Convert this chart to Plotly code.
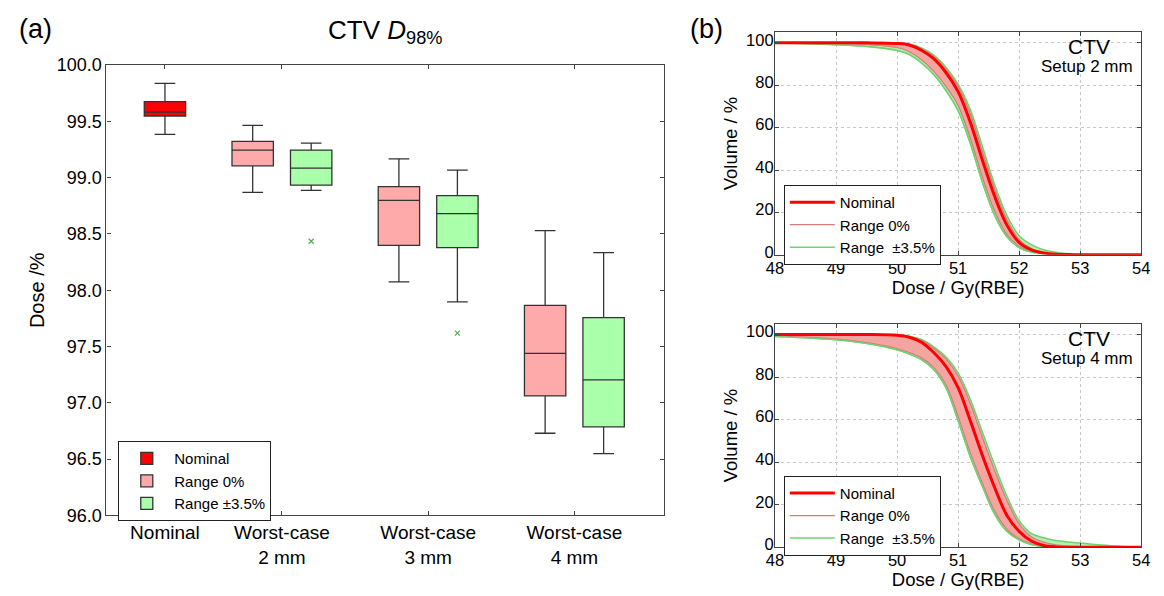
import plotly.graph_objects as go

FONT = "Liberation Sans, Arial, sans-serif"
W, H = 1164, 596

# ---------------- panel (a): CTV D98% box plots ----------------
groups = ["Nominal", "Worst-case<br>2 mm", "Worst-case<br>3 mm", "Worst-case<br>4 mm"]
group_pos = [0.4, 1.2, 2.2, 3.2]

nom_lower = [99.385]
nom_q1 = [99.548]
nom_median = [99.582]
nom_q3 = [99.676]
nom_upper = [99.837]

r0_lower = [98.87, 98.075, 96.73]
r0_q1 = [99.105, 98.398, 97.062]
r0_median = [99.245, 98.798, 97.439]
r0_q3 = [99.322, 98.921, 97.865]
r0_upper = [99.465, 99.167, 98.530]

r35_lower = [98.887, 97.897, 96.55]
r35_q1 = [98.933, 98.378, 96.787]
r35_median = [99.084, 98.681, 97.204]
r35_q3 = [99.245, 98.841, 97.757]
r35_upper = [99.307, 99.067, 98.335]

r35_outlier_group = [1, 2]
r35_outliers = [98.435, 97.62]

# ---------------- panel (b): DVH curves ----------------
dose = [48, 48.5, 49, 49.5, 50.0, 50.2, 50.4, 50.6, 50.8, 51.0, 51.2, 51.4,
        51.6, 51.8, 52.0, 52.2, 52.4, 52.6, 52.8, 53.0, 53.5, 54]

s2_nominal = [100, 100, 100, 100, 99.7, 99.0, 96.5, 92.5, 86, 77, 62.5, 44.5,
              27.5, 14, 5.8, 2.3, 0.9, 0.3, 0.1, 0, 0, 0]
s2_r0_hi = [100, 100, 100, 100, 99.8, 99.2, 97.2, 93.6, 87.5, 79.5, 66.5, 48.5,
            31, 16.5, 7.2, 3.0, 1.2, 0.5, 0.2, 0.05, 0, 0]
s2_r0_lo = [100, 99.9, 99.7, 99.2, 97.8, 95.8, 92, 86.5, 79.5, 70.5, 55, 36.5,
            20.5, 9.5, 4.0, 1.6, 0.6, 0.2, 0.05, 0, 0, 0]
s2_r35_hi = [100, 100, 100, 100, 99.9, 99.4, 97.6, 94.2, 88.5, 80.5, 68.5, 51,
             33, 18.5, 9.0, 4.8, 2.4, 1.2, 0.5, 0.15, 0, 0]
s2_r35_lo = [99.9, 99.6, 99.1, 98.3, 96.4, 94.5, 90.5, 85, 77.5, 68, 52.5, 34,
             18.5, 8.5, 3.4, 1.3, 0.5, 0.2, 0, 0, 0, 0]

s4_nominal = [100, 100, 100, 100, 99.6, 98.7, 96.3, 91.5, 85, 75, 59.5, 43,
              28, 15, 7.5, 3.0, 0.9, 0.2, 0.05, 0, 0, 0]
s4_r0_hi = [100, 100, 100, 100, 99.7, 99.0, 97.2, 93.5, 88.5, 80.5, 67.5, 51.5,
            36, 22, 11, 5, 2.5, 1.2, 0.6, 0.3, 0, 0]
s4_r0_lo = [99.3, 98.7, 97.9, 96.2, 93.4, 91.5, 89, 84.5, 76.5, 61.5, 44.5, 30,
            17, 8.5, 4.0, 1.6, 0.5, 0.1, 0, 0, 0, 0]
s4_r35_hi = [100, 100, 100, 100, 99.8, 99.2, 97.6, 94.2, 89.5, 82, 69.5, 54,
             38.5, 24, 12.5, 6.5, 4.5, 3.2, 2.5, 2.0, 0.8, 0]
s4_r35_lo = [99.0, 98.4, 97.5, 95.8, 92.8, 90.8, 88.2, 83.5, 75, 59.5, 42.5, 28.5,
             15.5, 7.5, 3.5, 1.3, 0.4, 0.1, 0, 0, 0, 0]

# ---------------- styles ----------------
RED = "#ff0000"
PINK = "#ffaaaa"
LGREEN = "#aaffaa"
BOX_LINE = "#333333"
R0_LINE = "#d47c7c"
G_LINE = "#6fd46f"
BOX_W = 0.283
OFF = 0.2

fig = go.Figure()

# box plots
fig.add_trace(go.Box(
    x=[group_pos[0]], q1=nom_q1, median=nom_median, q3=nom_q3,
    lowerfence=nom_lower, upperfence=nom_upper, width=BOX_W,
    fillcolor=RED, line=dict(color=BOX_LINE, width=1.3), whiskerwidth=0.5,
    boxpoints=False, name="Nominal", legend="legend", xaxis="x", yaxis="y",
))
fig.add_trace(go.Box(
    x=[p - OFF for p in group_pos[1:]], q1=r0_q1, median=r0_median, q3=r0_q3,
    lowerfence=r0_lower, upperfence=r0_upper, width=BOX_W,
    fillcolor=PINK, line=dict(color=BOX_LINE, width=1.3), whiskerwidth=0.5,
    boxpoints=False, name="Range 0%", legend="legend", xaxis="x", yaxis="y",
))
fig.add_trace(go.Box(
    x=[p + OFF for p in group_pos[1:]], q1=r35_q1, median=r35_median, q3=r35_q3,
    lowerfence=r35_lower, upperfence=r35_upper, width=BOX_W,
    fillcolor=LGREEN, line=dict(color=BOX_LINE, width=1.3), whiskerwidth=0.5,
    boxpoints=False, name="Range \u00b13.5%", legend="legend", xaxis="x", yaxis="y",
))
fig.add_trace(go.Scatter(
    x=[group_pos[g] + OFF for g in r35_outlier_group], y=r35_outliers,
    mode="markers", marker=dict(symbol="x-thin", size=5,
                                line=dict(color="#4caf50", width=1.2)),
    showlegend=False, xaxis="x", yaxis="y", hoverinfo="y",
))


def add_dvh(nom, r0hi, r0lo, r35hi, r35lo, xa, ya, leg):
    common = dict(x=dose, xaxis=xa, yaxis=ya, mode="lines", legend=leg)
    sp = dict(shape="spline", smoothing=1.0)
    fig.add_trace(go.Scatter(y=r35hi, line=dict(color=G_LINE, width=1.5, **sp),
                             name="Range  \u00b13.5%", legendrank=3, **common))
    fig.add_trace(go.Scatter(y=r35lo, line=dict(color=G_LINE, width=1.5, **sp),
                             fill="tonexty", fillcolor="rgba(150,235,150,0.75)",
                             showlegend=False, **common))
    fig.add_trace(go.Scatter(y=r0hi, line=dict(color=R0_LINE, width=1.2, **sp),
                             name="Range 0%", legendrank=2, **common))
    fig.add_trace(go.Scatter(y=r0lo, line=dict(color=R0_LINE, width=1.2, **sp),
                             fill="tonexty", fillcolor="rgba(248,160,160,0.95)",
                             showlegend=False, **common))
    fig.add_trace(go.Scatter(y=r35lo, line=dict(color=G_LINE, width=1.3, **sp),
                             showlegend=False, **common))
    fig.add_trace(go.Scatter(y=nom, line=dict(color=RED, width=3, **sp),
                             name="Nominal", legendrank=1, **common))


add_dvh(s2_nominal, s2_r0_hi, s2_r0_lo, s2_r35_hi, s2_r35_lo, "x2", "y2", "legend2")
add_dvh(s4_nominal, s4_r0_hi, s4_r0_lo, s4_r35_hi, s4_r35_lo, "x3", "y3", "legend3")


def px_x(v):
    return v / W


def px_y(v):
    return 1 - v / H


axis_common = dict(showline=True, linecolor="#444444", linewidth=1.2, mirror="ticks",
                   ticks="inside", ticklen=4, tickcolor="#444444", zeroline=False)

legend_common = dict(xanchor="left", yanchor="top", bgcolor="white",
                     bordercolor="#222222", borderwidth=1,
                     font=dict(family=FONT, size=15, color="black"),
                     tracegroupgap=0, itemwidth=45, traceorder="normal")

grid = dict(showgrid=True, gridcolor="#c8c8c8", griddash="dot")

fig.update_layout(
    width=W, height=H,
    margin=dict(l=0, r=0, t=0, b=0),
    paper_bgcolor="white", plot_bgcolor="white",
    font=dict(family=FONT, color="black"),
    showlegend=True,
    xaxis=dict(domain=[px_x(99), px_x(665)], range=[0, 3.811], anchor="y",
               tickvals=group_pos, ticktext=groups, showgrid=False,
               tickfont=dict(size=19), **axis_common),
    yaxis=dict(domain=[px_y(523), px_y(57)], range=[96, 100], anchor="x",
               dtick=0.5, tickformat=".1f", showgrid=False,
               tickfont=dict(size=18),
               title=dict(text="Dose /%", font=dict(size=20), standoff=6),
               **axis_common),
    xaxis2=dict(domain=[px_x(778), px_x(1150)], range=[48, 54], anchor="y2",
                dtick=1, tickfont=dict(size=16.5), ticklabelstandoff=-2,
                title=dict(text="Dose / Gy(RBE)", font=dict(size=18.5), standoff=1),
                **grid, **axis_common),
    yaxis2=dict(domain=[px_y(253.3), px_y(23)], range=[0, 105], anchor="x2",
                tickvals=[0, 20, 40, 60, 80, 100], tickfont=dict(size=16.5),
                ticklabelstandoff=-3, ticklabelshift=-3,
                title=dict(text="Volume / %", font=dict(size=18.5), standoff=3),
                **grid, **axis_common),
    xaxis3=dict(domain=[px_x(778), px_x(1150)], range=[48, 54], anchor="y3",
                dtick=1, tickfont=dict(size=16.5), ticklabelstandoff=-2,
                title=dict(text="Dose / Gy(RBE)", font=dict(size=18.5), standoff=1),
                **grid, **axis_common),
    yaxis3=dict(domain=[px_y(556), px_y(324.7)], range=[0, 105], anchor="x3",
                tickvals=[0, 20, 40, 60, 80, 100], tickfont=dict(size=16.5),
                ticklabelstandoff=-3, ticklabelshift=-3,
                title=dict(text="Volume / %", font=dict(size=18.5), standoff=3),
                **grid, **axis_common),
    legend=dict(x=px_x(111), y=px_y(446), **legend_common),
    legend2=dict(x=px_x(787), y=px_y(181), **legend_common),
    legend3=dict(x=px_x(787), y=px_y(482), **legend_common),
)

annotations = [
    dict(text="(a)", x=px_x(8), y=px_y(20), xanchor="left", yanchor="middle",
         font=dict(size=27)),
    dict(text="(b)", x=px_x(690), y=px_y(20), xanchor="left", yanchor="middle",
         font=dict(size=27)),
    dict(text="CTV <i>D</i><sub>98%</sub>", x=px_x(382), y=px_y(22),
         xanchor="center", yanchor="middle", font=dict(size=26)),
    dict(text="CTV", x=px_x(1097), y=px_y(38), xanchor="center", yanchor="middle",
         font=dict(size=21)),
    dict(text="Setup 2 mm", x=px_x(1095), y=px_y(58), xanchor="center", yanchor="middle",
         font=dict(size=17)),
    dict(text="CTV", x=px_x(1097), y=px_y(340), xanchor="center", yanchor="middle",
         font=dict(size=21)),
    dict(text="Setup 4 mm", x=px_x(1095), y=px_y(361), xanchor="center", yanchor="middle",
         font=dict(size=17)),
]
for a in annotations:
    a.update(xref="paper", yref="paper", showarrow=False)
    a["font"].update(family=FONT, color="black")
fig.update_layout(annotations=annotations)

fig.write_html("out.html")
